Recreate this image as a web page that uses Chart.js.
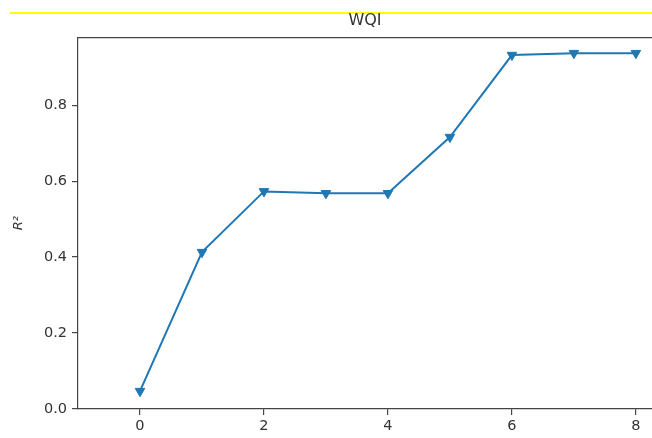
<!DOCTYPE html>
<html>
<head>
<meta charset="utf-8">
<script src="https://cdn.jsdelivr.net/npm/chart.js@4/dist/chart.umd.min.js"></script>
<style>
  html, body { margin: 0; padding: 0; background: #fff; }
  #wrap { width: 652px; height: 438px; position: relative; }
</style>
</head>
<body>
<div id="wrap"><canvas id="chart"></canvas></div>
<script>
const steps = [0, 1, 2, 3, 4, 5, 6, 7, 8];
const r2Values = [0.047, 0.413, 0.573, 0.568, 0.568, 0.716, 0.932, 0.937, 0.937];
const xTicks = [0, 2, 4, 6, 8];
const yTicks = [0.0, 0.2, 0.4, 0.6, 0.8];

const blue = "#1f77b4";
const axisColor = "#444";
const textColor = "#333";

// yellow rule across the top and the top border of the axes box
const extras = {
  id: "extras",
  beforeDraw(chart) {
    const ctx = chart.ctx;
    ctx.save();
    ctx.fillStyle = "#ffff00";
    ctx.fillRect(10, 12, 642, 2);
    ctx.restore();
  },
  afterDraw(chart) {
    const { ctx, chartArea } = chart;
    ctx.save();
    ctx.strokeStyle = axisColor;
    ctx.lineWidth = 1.2;
    ctx.beginPath();
    ctx.moveTo(chartArea.left, chartArea.top + 0.5);
    ctx.lineTo(chartArea.right, chartArea.top + 0.5);
    ctx.stroke();
    ctx.restore();
  }
};

new Chart(document.getElementById("chart"), {
  type: "line",
  data: {
    datasets: [{
      label: "WQI",
      data: steps.map((s, i) => ({ x: s, y: r2Values[i] })),
      borderColor: blue,
      backgroundColor: blue,
      borderWidth: 2,
      pointStyle: "triangle",
      rotation: 180,
      pointRadius: 5.5,
      pointBorderWidth: 1,
      pointHoverRadius: 5.5,
      tension: 0,
      clip: false
    }]
  },
  options: {
    responsive: true,
    maintainAspectRatio: false,
    animation: false,
    layout: { padding: 0, autoPadding: false },
    plugins: {
      legend: { display: false },
      tooltip: { enabled: false },
      title: {
        display: true,
        text: "WQI",
        fullSize: false,
        color: textColor,
        font: { family: "DejaVu Sans", size: 16, weight: "normal" },
        padding: { top: 11, bottom: 7 }
      }
    },
    scales: {
      x: {
        type: "linear",
        min: -1,
        max: 8.26,
        afterFit: (scale) => {
          scale.height = 29;
          scale.paddingLeft = 0;
          scale.paddingRight = 0;
        },
        afterBuildTicks: (scale) => { scale.ticks = xTicks.map(v => ({ value: v })); },
        grid: { display: true, drawOnChartArea: false, drawTicks: true, tickLength: 6, color: axisColor, lineWidth: 1.2 },
        border: { display: true, color: axisColor, width: 1.2 },
        ticks: {
          color: textColor,
          padding: 3,
          maxRotation: 0,
          font: { family: "DejaVu Sans", size: 14.5 },
          callback: (v) => String(v)
        }
      },
      y: {
        min: 0,
        max: 0.979,
        afterFit: (scale) => {
          scale.width = 78;
          scale.paddingTop = 0;
          scale.paddingBottom = 0;
        },
        afterBuildTicks: (scale) => { scale.ticks = yTicks.map(v => ({ value: v })); },
        grid: { display: true, drawOnChartArea: false, drawTicks: true, tickLength: 6, color: axisColor, lineWidth: 1.2 },
        border: { display: true, color: axisColor, width: 1.2 },
        ticks: {
          color: textColor,
          padding: 5,
          font: { family: "DejaVu Sans", size: 14.5 },
          callback: (v) => Number(v).toFixed(1)
        },
        title: {
          display: true,
          text: "R²",
          color: textColor,
          font: { family: "DejaVu Sans", size: 13, style: "italic" },
          padding: { top: 11, bottom: 0 }
        }
      }
    }
  },
  plugins: [extras]
});
</script>
</body>
</html>
